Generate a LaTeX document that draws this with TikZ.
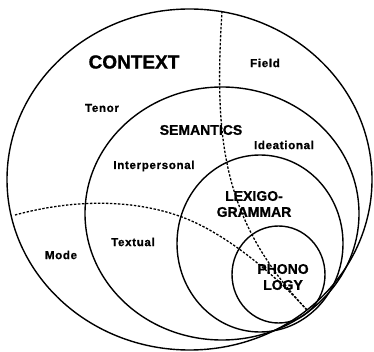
\documentclass[tikz,border=0pt]{standalone}
\usepackage{fontspec}
\setmainfont{Liberation Sans}[BoldFeatures={FakeBold=1}]
\newfontfamily\labfont{Liberation Sans}[LetterSpace=6, BoldFeatures={FakeBold=1}]
\usepackage{tikz}

\tikzset{
  ring/.style={line width=1.4pt},
  split/.style={line width=1.3pt, dash pattern=on 2.4pt off 1.6pt},
  big/.style={font=\bfseries\fontsize{19}{21}\selectfont},
  mid/.style={font=\bfseries\fontsize{14}{16}\selectfont, align=center},
  small/.style={font=\labfont\bfseries\fontsize{11.5}{13}\selectfont}
}

\begin{document}
\begin{tikzpicture}[x=1pt, y=-1pt]
  \useasboundingbox (0,0) rectangle (374,352);
  \draw[ring] (189.5,179.5) ellipse [x radius=182.5pt, y radius=170.5pt];
  \draw[ring] (222,213.5) ellipse [x radius=137pt, y radius=126.5pt];
  \draw[ring] (260,243.5) ellipse [x radius=83pt, y radius=88.5pt];
  \draw[ring] (278.5,274.5) ellipse [x radius=46.5pt, y radius=48.5pt];
  \coordinate (touch) at (307,310);
  \coordinate (fieldtop) at (222,11);
  \coordinate (modeleft) at (15,215);
  \coordinate (bend) at (182,217);
  \draw[split] (fieldtop) .. controls (214,140) and (222,220) .. (touch);
  \draw[split] (modeleft) .. controls (70,200) and (130,198) .. (bend)
    .. controls (230,235) and (280,280) .. (touch);
  \node[big] (context) at (134,62) {CONTEXT};
  \node[small] (field) at (265,63) {Field};
  \node[small] (tenor) at (102,108) {Tenor};
  \node[mid] (semantics) at (201,130) {SEMANTICS};
  \node[small] (ideational) at (284,145) {Ideational};
  \node[small] (interpersonal) at (154,166) {Interpersonal};
  \node[mid] (lexigo) at (254,204) {LEXIGO-\\GRAMMAR};
  \node[small] (textual) at (133,242) {Textual};
  \node[small] (mode) at (61,255) {Mode};
  \node[mid] (phono) at (283,277) {PHONO\\LOGY};
\end{tikzpicture}
\end{document}
